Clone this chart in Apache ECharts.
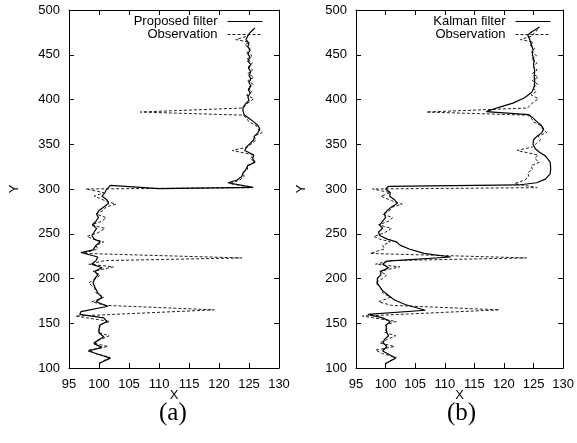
<!DOCTYPE html>
<html>
<head>
<meta charset="utf-8">
<script src="https://cdn.jsdelivr.net/npm/echarts@6/dist/echarts.min.js"></script>
<style>html,body{margin:0;padding:0;background:#fff}#c{width:577px;height:443px}</style>
</head>
<body>
<div id="c"></div>
<script>
// Observation (x, y) along the trajectory
var observation = [
[100.0,105],[101.8,112],[99.5,116],[98.3,120],[101.5,124],[99.0,128],[100.3,132],[101.7,136],[99.8,140],[100.2,144],
[100.0,148],[101.8,152],[96.1,158],[119.2,165],[101.0,170],[98.8,174],[100.8,179],[99.5,184],[99.3,189],[98.3,195],
[99.5,200],[100.2,204],[99.0,208],[102.4,213],[98.3,216],[101.0,220],[123.8,223],[97.4,228],[99.8,233],[99.5,237],
[100.8,241],[99.0,244],[98.0,247],[99.8,251],[101.0,256],[98.8,260],[100.5,264],[101.2,268],[99.5,272],[100.7,276],
[101.2,280],[102.8,283],[101.0,287],[99.2,292],[100.8,296],[97.8,300],[125.6,301.5],[121.8,306],[123.5,310],[124.2,314],
[124.0,318],[124.8,322],[124.6,326],[126.0,330],[125.2,334],[125.8,338],[122.2,343],[124.8,347],[125.5,351],[126.2,355],
[125.8,359],[127.2,363],[126.5,367],[126.2,371],[125.0,375],[124.6,379],[124.0,382.5],[106.9,386],[124.0,390.5],[124.6,395],
[125.8,401],[124.6,405],[125.5,409],[124.8,413],[125.7,417],[124.8,421],[125.8,425],[124.8,429],[125.6,433],[124.9,437],
[125.6,441],[124.6,445],[125.5,449],[124.6,453],[125.2,457],[124.3,461],[125.0,464],[122.8,467],[124.8,471],[125.2,475],[126.0,480]
];
// Proposed filter estimate (panel a)
var proposed = [
[100.0,105],[101.9,111],[100.5,114],[98.2,119],[100.5,123],[99.2,127],[99.8,131],[100.8,135],[100.0,139],[100.0,144],
[100.2,148],[101.3,152],[100.8,156],[96.8,160],[97.0,163],[101.5,169],[99.5,174],[100.5,179],[99.8,184],[99.4,189],
[99.0,195],[99.3,200],[99.8,204],[99.3,208],[100.5,212],[98.8,216],[99.5,220],[99.8,224],[97.0,229],[99.0,232],
[99.5,237],[100.2,241],[99.2,244],[98.8,248],[99.2,252],[99.6,256],[98.9,260],[99.5,264],[99.9,268],[99.6,272],
[100.0,276],[100.8,280],[101.6,284],[101.3,288],[100.5,292],[101.0,296],[101.2,299],[101.9,304],[110.0,300.5],[125.7,301.8],
[121.5,307],[123.0,310],[123.8,314],[124.0,318],[124.5,322],[124.8,326],[126.0,330],[125.6,334],[125.8,338],[124.3,343],
[124.6,347],[125.2,351],[125.8,355],[125.9,359],[126.5,363],[126.8,367],[126.5,371],[125.8,375],[125.0,379],[124.2,383],
[124.0,387],[124.0,391],[124.4,395],[125.0,399],[124.8,403],[125.2,407],[124.9,411],[125.3,415],[125.0,419],[125.3,423],
[125.0,427],[125.3,431],[124.9,435],[125.3,439],[124.8,443],[125.2,447],[124.8,451],[125.2,455],[124.8,459],[125.0,463],
[124.5,467],[124.8,471],[125.2,475],[126.0,480]
];
// Kalman filter estimate (panel b)
var kalman = [
[100.0,105],[101.7,111],[100.6,115],[99.5,119],[100.2,124],[99.6,128],[99.8,132],[100.5,136],[100.2,140],[100.1,144],
[100.1,148],[100.8,152],[99.5,156],[97.0,160],[106.7,164.5],[103.3,171],[101.5,176],[100.5,181],[99.4,187],[98.6,195],
[98.6,200],[99.2,204],[99.2,208],[100.5,212],[99.5,216],[100.2,219.5],[111.0,224],[106.5,228],[104.0,233],[102.5,237],
[101.8,241],[100.3,244],[99.0,248],[98.8,252],[99.5,256],[99.0,260],[99.5,264],[100.0,268],[99.8,272],[100.3,276],
[101.0,280],[102.0,284],[101.5,288],[100.7,292],[100.8,296],[100.0,300],[100.5,303],[122.5,304.5],[125.5,307],[127.0,311],
[127.8,317],[127.9,323],[127.8,330],[127.0,337],[126.0,341],[125.3,345],[124.9,350],[125.0,355],[125.6,359],[126.4,363],
[126.7,367],[126.3,371],[125.6,375],[124.8,380],[124.2,383],[117.0,386.5],[119.0,391],[121.5,396],[123.5,402],[124.7,408],
[125.1,414],[125.2,420],[125.1,426],[125.2,432],[125.0,438],[125.1,444],[124.8,450],[124.9,456],[124.6,462],[124.3,468],
[124.0,472],[124.8,476],[126.0,481]
];
var xTicks = {min: 95, max: 130, interval: 5};
var yTicks = {min: 100, max: 500, interval: 50};
var panelLabels = ['(a)', '(b)'];
var filterNames = ['Proposed filter', 'Kalman filter'];

var chart = echarts.init(document.getElementById('c'), null, {renderer: 'canvas'});
var font = 'Liberation Sans, Arial, Helvetica, sans-serif';
var grids = [
  {left: 69, top: 10, width: 210, height: 358},
  {left: 356, top: 10, width: 211, height: 358}
];
var xAxes = [], yAxes = [];
grids.forEach(function (g, i) {
  var line = {show: true, lineStyle: {color: '#000', width: 1}};
  var tick = {show: true, inside: true, length: 5, lineStyle: {color: '#000', width: 1}};
  xAxes.push({type: 'value', gridIndex: i, position: 'bottom', min: xTicks.min, max: xTicks.max, interval: xTicks.interval,
    axisLine: line, axisTick: tick, splitLine: {show: false},
    axisLabel: {margin: 10, color: '#000', fontSize: 13, fontFamily: font, showMinLabel: true, showMaxLabel: true},
    name: 'X', nameLocation: 'middle', nameGap: 27, nameMoveOverlap: false,
    nameTextStyle: {color: '#000', fontSize: 13, fontFamily: font, verticalAlign: 'middle'}});
  xAxes.push({type: 'value', gridIndex: i, position: 'top', min: xTicks.min, max: xTicks.max, interval: xTicks.interval,
    axisLine: line, axisTick: tick, splitLine: {show: false}, axisLabel: {show: false}});
  yAxes.push({type: 'value', gridIndex: i, position: 'left', min: yTicks.min, max: yTicks.max, interval: yTicks.interval,
    axisLine: line, axisTick: tick, splitLine: {show: false},
    axisLabel: {margin: 9, color: '#000', fontSize: 13, fontFamily: font},
    name: 'Y', nameLocation: 'middle', nameGap: 48, nameRotate: 90, nameTextStyle: {color: '#000', fontSize: 13, fontFamily: font}});
  yAxes.push({type: 'value', gridIndex: i, position: 'right', min: yTicks.min, max: yTicks.max, interval: yTicks.interval,
    axisLine: line, axisTick: tick, splitLine: {show: false}, axisLabel: {show: false}});
});

var obsStyle = {color: '#222', width: 1, type: [3, 2]};
var solidStyle = {color: '#000', width: 1.2, type: 'solid'};
var series = [
  {name: filterNames[0], type: 'line', xAxisIndex: 0, yAxisIndex: 0, data: proposed, symbol: 'none', lineStyle: solidStyle, itemStyle: {color: '#000'}, z: 3, animation: false},
  {name: 'Observation', type: 'line', xAxisIndex: 0, yAxisIndex: 0, data: observation, symbol: 'none', lineStyle: obsStyle, itemStyle: {color: '#222'}, z: 2, animation: false},
  {name: filterNames[1], type: 'line', xAxisIndex: 2, yAxisIndex: 2, data: kalman, symbol: 'none', lineStyle: solidStyle, itemStyle: {color: '#000'}, z: 3, animation: false},
  {name: 'Observation', type: 'line', xAxisIndex: 2, yAxisIndex: 2, data: observation, symbol: 'none', lineStyle: obsStyle, itemStyle: {color: '#222'}, z: 2, animation: false}
];

function leg(name, right, top) {
  return {data: [name], right: right, top: top, align: 'right', orient: 'horizontal', padding: 0,
    itemWidth: 35, itemHeight: 12, selectedMode: false,
    itemStyle: {opacity: 0},
    lineStyle: {width: 1},
    textStyle: {color: '#000', fontSize: 13, fontFamily: font, padding: [0, 5, 0, 0]}};
}

chart.setOption({
  animation: false,
  backgroundColor: '#fff',
  grid: grids,
  xAxis: xAxes,
  yAxis: yAxes,
  legend: [
    leg(filterNames[0], 314, 15), leg('Observation', 314, 28),
    leg(filterNames[1], 26, 15), leg('Observation', 26, 28)
  ],
  series: series,
  graphic: [
    {type: 'text', left: 175 - 16, top: 401, style: {text: panelLabels[0], font: '25px "Liberation Serif", "DejaVu Serif", serif', fill: '#000'}},
    {type: 'text', left: 463 - 16, top: 401, style: {text: panelLabels[1], font: '25px "Liberation Serif", "DejaVu Serif", serif', fill: '#000'}}
  ]
});
</script>
</body>
</html>
